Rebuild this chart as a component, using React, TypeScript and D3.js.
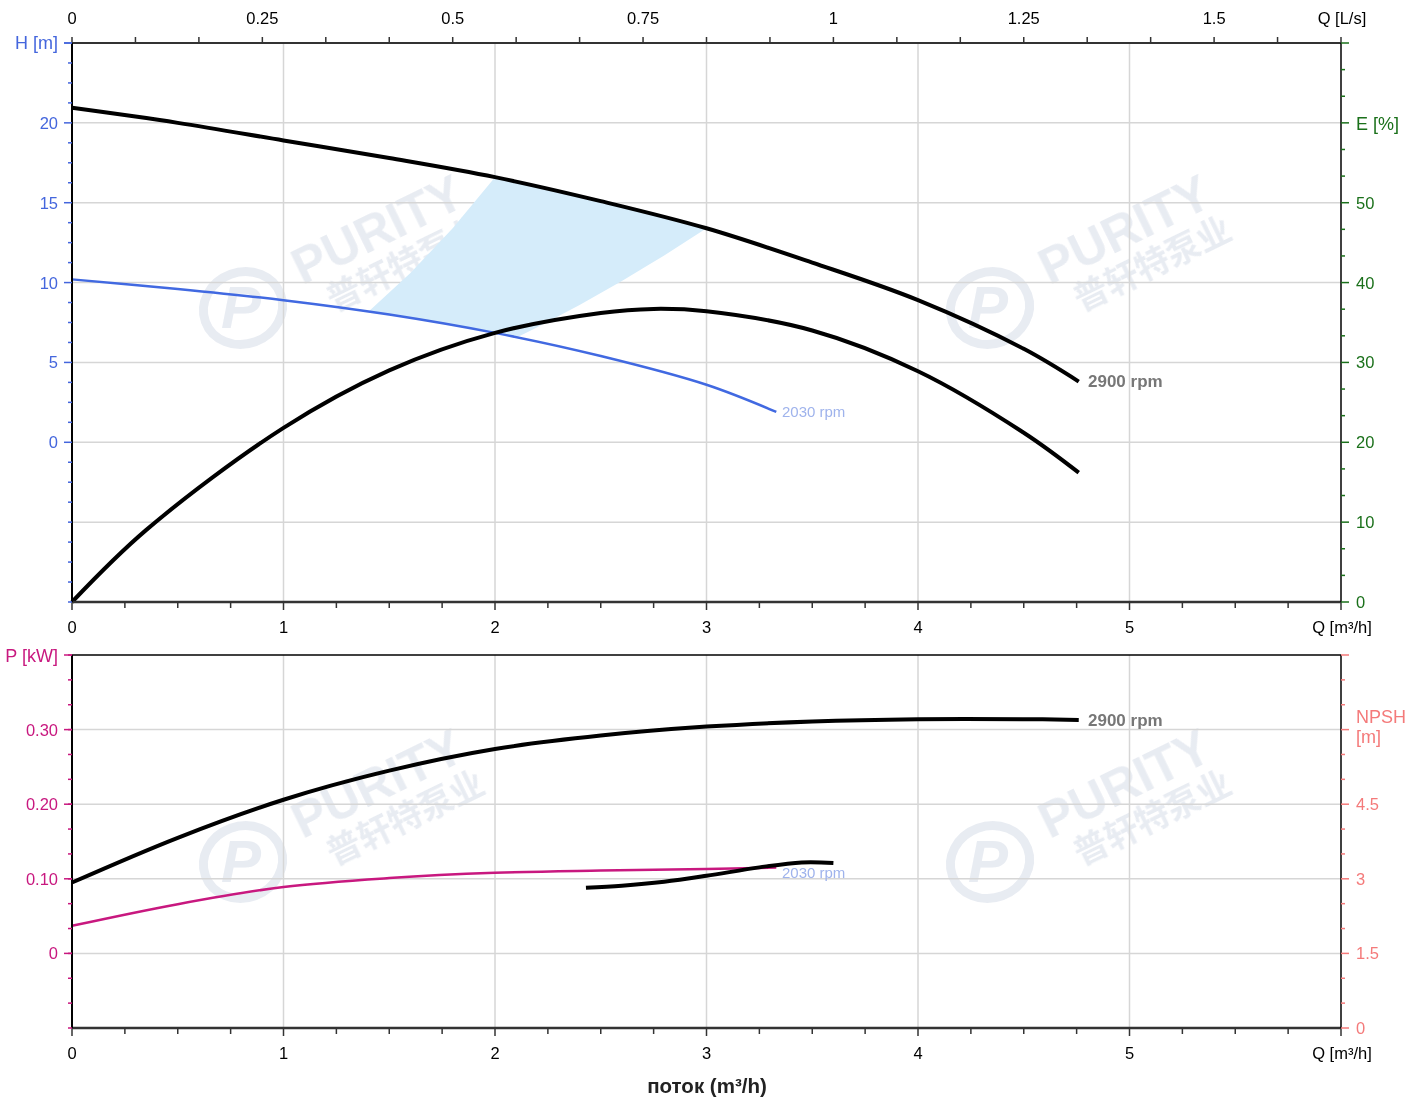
import React from "react";
import * as d3 from "d3";

// ---------- data ----------
const Q_H2900 = [0, 0.5, 1, 1.5, 2, 2.5, 3, 3.5, 4, 4.5, 4.76];
const H_2900 = [20.94, 20.0, 18.9, 17.8, 16.6, 15.1, 13.4, 11.25, 8.9, 5.85, 3.8];

const Q_H2030 = [0, 0.5, 1, 1.5, 2, 2.5, 3, 3.33];
const H_2030 = [10.2, 9.6, 8.9, 8.0, 6.85, 5.4, 3.6, 1.9];

const Q_EFF = [0, 0.35, 1, 1.5, 2, 2.5, 2.75, 3, 3.5, 4, 4.5, 4.76];
const EFF = [0, 9, 21.8, 29, 33.7, 36.2, 36.7, 36.4, 34, 28.9, 21.2, 16.2];

const SHADE_Q = [2, 2.25, 2.5, 2.75, 3, 2.8, 2.6, 2.4, 2.2, 2.1, 2.0, 1.75, 1.5, 1.4, 1.6, 1.8, 2];
const SHADE_H = [16.6, 15.9, 15.1, 14.3, 13.4, 11.7, 10.1, 8.6, 7.2, 6.55, 6.85, 7.5, 8.0, 8.15, 10.6, 13.4, 16.6];

const Q_P2900 = [0, 0.5, 1, 1.5, 2, 2.5, 3, 3.5, 4, 4.5, 4.76];
const P_2900 = [0.095, 0.155, 0.206, 0.245, 0.274, 0.292, 0.304, 0.311, 0.314, 0.314, 0.313];

const Q_P2030 = [0, 0.5, 1, 1.5, 2, 2.5, 3, 3.33];
const P_2030 = [0.037, 0.066, 0.089, 0.101, 0.108, 0.111, 0.113, 0.115];

const Q_NPSH = [2.43, 2.6, 2.8, 3, 3.25, 3.45, 3.6];
const NPSH = [2.82, 2.86, 2.94, 3.06, 3.23, 3.33, 3.32];

const Q_TICKS = [0, 1, 2, 3, 4, 5];
const QLS_TICKS = [0, 0.25, 0.5, 0.75, 1, 1.25, 1.5];
const H_TICKS = [0, 5, 10, 15, 20];
const E_TICKS = [0, 10, 20, 30, 40, 50];
const P_TICKS = [0, 0.1, 0.2, 0.3];
const NPSH_TICKS = [0, 1.5, 3, 4.5];

// ---------- layout ----------
const W = 1418, HGT = 1104;
const L = 72, R = 1341;
const T1 = 43, B1 = 602;
const T2 = 655, B2 = 1028;
const FONT = "'Liberation Sans', Arial, sans-serif";

const cH = "#4466dd";
const cE = "#1a701a";
const cP = "#c8187f";
const cN = "#f47a7a";
const grid = "#d6d6d6";

const x = d3.scaleLinear().domain([0, 6]).range([L, R]);
const xls = d3.scaleLinear().domain([0, 6 / 3.6]).range([L, R]);
const yH = d3.scaleLinear().domain([-10, 25]).range([B1, T1]);
const yE = d3.scaleLinear().domain([0, 70]).range([B1, T1]);
const yP = d3.scaleLinear().domain([-0.1, 0.4]).range([B2, T2]);
const yN = d3.scaleLinear().domain([0, 7.5]).range([B2, T2]);

function mk(qs: number[], vs: number[], ys: d3.ScaleLinear<number, number>) {
  const g = d3
    .line<number>()
    .x((_, i) => x(qs[i]))
    .y((v) => ys(v))
    .curve(d3.curveCatmullRom.alpha(0.5));
  return g(vs) || "";
}

function range(a: number, b: number, step: number) {
  const out: number[] = [];
  for (let v = a; v <= b + 1e-9; v += step) out.push(+v.toFixed(6));
  return out;
}

function Watermark({ cx, cy }: { cx: number; cy: number }) {
  const col = "#e6eaf1";
  return (
    <g opacity={0.9}>
      <g transform={`translate(${cx - 142},${cy + 63})`}>
        <ellipse cx={0} cy={0} rx={40} ry={36} fill="none" stroke={col} strokeWidth={9} transform="rotate(-20)" />
        <text x={-2} y={20} textAnchor="middle" fontFamily={FONT} fontWeight="bold" fontStyle="italic" fontSize={60} fill={col}>P</text>
      </g>
      <g transform={`translate(${cx},${cy}) rotate(-26)`}>
        <text x={0} y={0} textAnchor="middle" fontFamily={FONT} fontWeight="bold" fontSize={50} fill={col}>PURITY</text>
        <text x={10} y={38} textAnchor="middle" fontFamily="'Noto Sans CJK SC', sans-serif" fontWeight="bold" fontSize={34} fill={col}>普轩特泵业</text>
      </g>
    </g>
  );
}

export default function App() {
  const shade = d3
    .line<number>()
    .x((_, i) => x(SHADE_Q[i]))
    .y((v) => yH(v))
    .curve(d3.curveLinear)(SHADE_H) || "";

  const qMinor = range(0, 6, 0.25);
  const qlsMinor = range(0, 6 / 3.6, 0.25 / 3);
  const hMinor = range(-10, 25, 1.25);
  const eMinor = range(0, 70, 10 / 3);
  const pMinor = range(-0.1, 0.4, 0.1 / 3);
  const nMinor = range(0, 7.5, 0.5);

  const txt = { fontFamily: FONT, fontSize: 16.5 } as const;
  const ttl = { fontFamily: FONT, fontSize: 18 } as const;

  return (
    <svg width={W} height={HGT} style={{ position: "absolute", left: 0, top: 0, background: "#fff" }}>
      <rect x={0} y={0} width={W} height={HGT} fill="#fff" />

      {/* ---------- watermarks ---------- */}
      <Watermark cx={385} cy={245} />
      <Watermark cx={1132} cy={245} />
      <Watermark cx={385} cy={799} />
      <Watermark cx={1132} cy={799} />

      {/* ---------- top chart grid ---------- */}
      {Q_TICKS.slice(1).map((q) => (
        <line key={"vg1" + q} x1={x(q)} x2={x(q)} y1={T1} y2={B1} stroke={grid} strokeWidth={1.5} />
      ))}
      {E_TICKS.slice(1).concat([60]).map((e) => (
        <line key={"hg1" + e} x1={L} x2={R} y1={yE(e)} y2={yE(e)} stroke={grid} strokeWidth={1.5} />
      ))}

      {/* shaded area */}
      <path d={shade} fill="#d5ecfa" stroke="none" />

      {/* curves top */}
      <path d={mk(Q_H2030, H_2030, yH)} fill="none" stroke="#4169e1" strokeWidth={2.5} />
      <path d={mk(Q_EFF, EFF, yE)} fill="none" stroke="#000" strokeWidth={4} />
      <path d={mk(Q_H2900, H_2900, yH)} fill="none" stroke="#000" strokeWidth={4} />

      <text x={1088} y={387} fontFamily={FONT} fontSize={17} fontWeight="bold" fill="#777">2900 rpm</text>
      <text x={782} y={417} fontFamily={FONT} fontSize={15} fill="#9fb3ec">2030 rpm</text>

      {/* frame top */}
      <line x1={L} x2={R} y1={T1} y2={T1} stroke="#333" strokeWidth={2} />
      <line x1={L} x2={R} y1={B1} y2={B1} stroke="#333" strokeWidth={2.5} />
      <line x1={L} x2={L} y1={T1} y2={B1} stroke="#000" strokeWidth={2} />
      <line x1={R} x2={R} y1={T1} y2={B1} stroke="#000" strokeWidth={1.5} />

      {/* top L/s axis */}
      {qlsMinor.map((v, i) => (
        <line key={"tls" + i} x1={xls(v)} x2={xls(v)} y1={T1} y2={T1 - 6} stroke="#333" strokeWidth={1.5} />
      ))}
      {QLS_TICKS.map((v) => (
        <text key={"ls" + v} x={xls(v)} y={24} textAnchor="middle" {...txt} fill="#000">{String(v)}</text>
      ))}
      <text x={1342} y={24} textAnchor="middle" {...txt} fill="#000">Q [L/s]</text>

      {/* bottom Q axis top chart */}
      {qMinor.map((v, i) => (
        <line key={"bq1" + i} x1={x(v)} x2={x(v)} y1={B1} y2={B1 + (Number.isInteger(v) ? 8 : 6)} stroke="#333" strokeWidth={1.5} />
      ))}
      {Q_TICKS.map((v) => (
        <text key={"q1" + v} x={x(v)} y={633} textAnchor="middle" {...txt} fill="#000">{String(v)}</text>
      ))}
      <text x={1342} y={633} textAnchor="middle" {...txt} fill="#000">Q [m³/h]</text>

      {/* H axis */}
      {hMinor.map((v, i) => (
        <line key={"hm" + i} x1={L - (v % 5 === 0 && v >= 0 ? 8 : 4)} x2={L} y1={yH(v)} y2={yH(v)} stroke={cH} strokeWidth={1.5} />
      ))}
      {H_TICKS.map((v) => (
        <text key={"h" + v} x={58} y={yH(v) + 6} textAnchor="end" {...txt} fill={cH}>{String(v)}</text>
      ))}
      <line x1={L - 8} x2={L} y1={T1} y2={T1} stroke={cH} strokeWidth={1.5} />
      <text x={58} y={T1 + 6} textAnchor="end" {...ttl} fill={cH}>H [m]</text>

      {/* E axis */}
      {eMinor.map((v, i) => (
        <line key={"em" + i} x1={R} x2={R + (Math.abs(v / 10 - Math.round(v / 10)) < 1e-6 ? 8 : 4)} y1={yE(v)} y2={yE(v)} stroke={cE} strokeWidth={1.5} />
      ))}
      {E_TICKS.map((v) => (
        <text key={"e" + v} x={1356} y={yE(v) + 6} {...txt} fill={cE}>{String(v)}</text>
      ))}
      <text x={1356} y={yE(60) + 7} {...ttl} fill={cE}>E [%]</text>

      {/* ---------- bottom chart ---------- */}
      {Q_TICKS.slice(1).map((q) => (
        <line key={"vg2" + q} x1={x(q)} x2={x(q)} y1={T2} y2={B2} stroke={grid} strokeWidth={1.5} />
      ))}
      {P_TICKS.map((p) => (
        <line key={"hg2" + p} x1={L} x2={R} y1={yP(p)} y2={yP(p)} stroke={grid} strokeWidth={1.5} />
      ))}

      <path d={mk(Q_P2030, P_2030, yP)} fill="none" stroke={cP} strokeWidth={2.5} />
      <path d={mk(Q_NPSH, NPSH, yN)} fill="none" stroke="#000" strokeWidth={4} />
      <path d={mk(Q_P2900, P_2900, yP)} fill="none" stroke="#000" strokeWidth={4} />

      <text x={1088} y={726} fontFamily={FONT} fontSize={17} fontWeight="bold" fill="#777">2900 rpm</text>
      <text x={782} y={878} fontFamily={FONT} fontSize={15} fill="#9fb3ec">2030 rpm</text>

      <line x1={L} x2={R} y1={T2} y2={T2} stroke="#000" strokeWidth={1.5} />
      <line x1={L} x2={R} y1={B2} y2={B2} stroke="#333" strokeWidth={2.5} />
      <line x1={L} x2={L} y1={T2} y2={B2} stroke="#000" strokeWidth={2} />
      <line x1={R} x2={R} y1={T2} y2={B2} stroke="#000" strokeWidth={1.5} />

      {qMinor.map((v, i) => (
        <line key={"bq2" + i} x1={x(v)} x2={x(v)} y1={B2} y2={B2 + (Number.isInteger(v) ? 8 : 6)} stroke="#333" strokeWidth={1.5} />
      ))}
      {Q_TICKS.map((v) => (
        <text key={"q2" + v} x={x(v)} y={1059} textAnchor="middle" {...txt} fill="#000">{String(v)}</text>
      ))}
      <text x={1342} y={1059} textAnchor="middle" {...txt} fill="#000">Q [m³/h]</text>

      {/* P axis */}
      {pMinor.map((v, i) => (
        <line key={"pm" + i} x1={L - 4} x2={L} y1={yP(v)} y2={yP(v)} stroke={cP} strokeWidth={1.5} />
      ))}
      {P_TICKS.map((v) => (
        <line key={"pM" + v} x1={L - 8} x2={L} y1={yP(v)} y2={yP(v)} stroke={cP} strokeWidth={1.5} />
      ))}
      {P_TICKS.map((v) => (
        <text key={"p" + v} x={58} y={yP(v) + 6} textAnchor="end" {...txt} fill={cP}>{v === 0 ? "0" : v.toFixed(2)}</text>
      ))}
      <line x1={L - 8} x2={L} y1={T2} y2={T2} stroke={cP} strokeWidth={1.5} />
      <text x={58} y={T2 + 7} textAnchor="end" {...ttl} fill={cP}>P [kW]</text>

      {/* NPSH axis */}
      {nMinor.map((v, i) => (
        <line key={"nm" + i} x1={R} x2={R + (Math.abs((v / 1.5) - Math.round(v / 1.5)) < 1e-6 ? 8 : 4)} y1={yN(v)} y2={yN(v)} stroke={cN} strokeWidth={1.5} />
      ))}
      {NPSH_TICKS.map((v) => (
        <text key={"n" + v} x={1356} y={yN(v) + 6} {...txt} fill={cN}>{String(v)}</text>
      ))}
      <text x={1356} y={723} {...ttl} fill={cN}>NPSH</text>
      <text x={1356} y={743} {...ttl} fill={cN}>[m]</text>

      <text x={707} y={1093} textAnchor="middle" fontFamily={FONT} fontSize={20.5} fontWeight="bold" fill="#222">поток (m³/h)</text>
    </svg>
  );
}
